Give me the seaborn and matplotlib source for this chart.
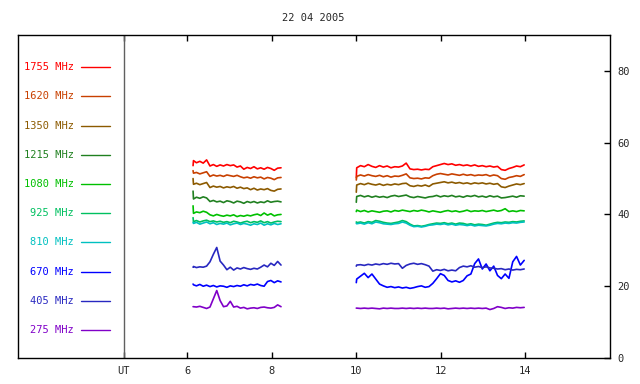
import numpy as np
import pandas as pd
import matplotlib
matplotlib.use("Agg")
import matplotlib.pyplot as plt
import seaborn as sns

# frequencies (legend order, top to bottom) and their colours
freqs = ["1755", "1620", "1350", "1215", "1080", "925", "810", "670", "405", "275"]
colors = ["#ff0000", "#c84000", "#8c5a00", "#208020", "#00c000",
          "#00c060", "#00c0c0", "#0000ff", "#2828c0", "#8000c8"]

# UT hours of the two observing runs
t1 = [6.14, 6.15, 6.22, 6.30, 6.38, 6.46, 6.54, 6.62, 6.70, 6.78, 6.86, 6.94, 7.02, 7.10,
      7.18, 7.26, 7.34, 7.42, 7.50, 7.58, 7.66, 7.74, 7.82, 7.90, 7.98, 8.06, 8.14, 8.22]
t2 = [10.00, 10.01, 10.10, 10.19, 10.28, 10.37, 10.46, 10.55, 10.64, 10.73, 10.82, 10.91,
      11.00, 11.09, 11.18, 11.27, 11.36, 11.45, 11.54, 11.63, 11.72, 11.81, 11.90, 11.99,
      12.08, 12.17, 12.26, 12.35, 12.44, 12.53, 12.62, 12.71, 12.80, 12.89, 12.98, 13.07,
      13.16, 13.25, 13.34, 13.43, 13.52, 13.61, 13.70, 13.79, 13.88, 13.97]

# run 1 values
r1_1755 = [53.6, 55.0, 54.4, 54.8, 54.3, 55.2, 53.5, 53.9, 53.4, 53.8, 53.5, 53.9, 53.6, 53.8,
           53.2, 53.5, 52.6, 53.1, 52.8, 53.3, 52.7, 53.0, 52.6, 53.1, 52.8, 52.3, 52.9, 53.0]
r1_1620 = [52.2, 51.5, 51.7, 51.3, 51.6, 51.9, 50.6, 51.0, 50.7, 50.9, 50.6, 51.0, 50.8, 50.6,
           50.9, 50.5, 50.2, 50.4, 50.1, 50.5, 50.2, 50.4, 49.9, 50.3, 50.1, 49.7, 50.2, 50.3]
r1_1350 = [50.0, 48.4, 48.7, 48.3, 48.6, 48.9, 47.5, 47.9, 47.6, 47.8, 47.4, 47.7, 47.5, 47.8,
           47.3, 47.6, 47.2, 47.4, 46.9, 47.3, 46.8, 47.1, 46.9, 47.2, 46.7, 46.5, 47.0, 47.1]
r1_1215 = [46.5, 44.3, 44.8, 44.5, 44.9, 44.6, 43.6, 43.9, 43.5, 43.7, 43.3, 43.8, 43.6, 43.2,
           43.7, 43.5, 43.1, 43.6, 43.3, 43.6, 43.2, 43.5, 43.3, 43.8, 43.4, 43.6, 43.7, 43.5]
r1_1080 = [42.4, 40.3, 40.7, 40.5, 40.9, 40.6, 39.9, 39.6, 40.0, 39.7, 39.5, 39.8, 39.6, 39.9,
           39.4, 39.7, 39.5, 39.8, 39.6, 39.9, 40.1, 39.7, 40.4, 39.8, 40.2, 39.6, 39.9, 40.0]
r1_925 = [39.1, 38.0, 38.3, 37.9, 38.2, 38.4, 38.0, 38.2, 37.9, 38.1, 37.8, 38.0, 37.7, 38.1,
          37.9, 37.6, 37.9, 38.1, 37.7, 38.0, 37.8, 38.2, 37.7, 38.0, 37.6, 37.9, 38.1, 38.0]
r1_810 = [37.8, 37.5, 37.8, 37.3, 37.6, 37.9, 37.4, 37.7, 37.2, 37.5, 37.3, 37.6, 37.1, 37.4,
          37.6, 37.2, 37.5, 37.3, 37.0, 37.4, 37.2, 37.6, 37.0, 37.4, 37.1, 37.5, 37.2, 37.4]
r1_670 = [20.6, 20.4, 20.1, 20.5, 20.0, 20.3, 19.9, 20.2, 19.8, 20.1, 20.0, 19.7, 20.1, 19.9,
          20.2, 20.0, 20.4, 20.1, 20.5, 20.3, 20.6, 20.2, 20.0, 21.3, 21.6, 21.0, 21.5, 21.2]
r1_405 = [25.3, 25.5, 25.2, 25.4, 25.3, 25.6, 26.8, 28.9, 30.8, 27.0, 25.9, 24.6, 25.3, 24.5,
          25.1, 24.8, 25.2, 24.9, 24.7, 25.0, 24.8, 25.3, 25.9, 25.4, 26.4, 25.8, 26.9, 25.9]
r1_275 = [14.3, 14.3, 14.2, 14.4, 14.1, 13.8, 14.2, 16.5, 18.8, 16.0, 14.3, 14.5, 15.8, 14.2,
          14.4, 13.9, 14.1, 13.7, 13.9, 14.0, 13.8, 14.1, 14.2, 14.0, 13.9, 14.1, 14.8, 14.3]

# run 2 values
r2_1755 = [50.2, 53.0, 53.6, 53.3, 53.9, 53.4, 53.1, 53.6, 53.2, 53.5, 53.0, 53.3, 53.2, 53.5,
           54.3, 52.7, 52.5, 52.6, 52.4, 52.6, 52.5, 53.3, 53.6, 53.9, 54.2, 53.9, 54.1, 53.7,
           53.9, 53.6, 53.8, 53.5, 53.8, 53.4, 53.6, 53.3, 53.5, 53.2, 53.4, 52.5, 52.3, 52.8,
           53.1, 53.5, 53.3, 53.8]
r2_1620 = [49.6, 50.6, 51.0, 50.7, 51.1, 50.8, 50.6, 50.9, 50.5, 50.8, 50.4, 50.7, 50.6, 50.9,
           51.3, 50.2, 50.0, 50.1, 49.9, 50.2, 50.1, 50.8, 51.2, 51.4, 51.2, 51.0, 51.3, 51.1,
           50.9, 51.2, 50.9, 51.1, 50.8, 51.0, 50.9, 51.1, 50.7, 51.0, 50.8, 50.0, 49.8, 50.3,
           50.5, 50.8, 50.6, 51.1]
r2_1350 = [46.2, 48.2, 48.6, 48.3, 48.7, 48.4, 48.2, 48.5, 48.1, 48.4, 48.2, 48.5, 48.3, 48.6,
           48.7, 48.0, 47.8, 48.1, 47.9, 48.2, 47.8, 48.5, 48.7, 48.9, 49.1, 48.8, 49.0, 48.7,
           48.9, 48.6, 48.8, 48.5, 48.8, 48.6, 48.8, 48.5, 48.7, 48.4, 48.6, 47.7, 47.5, 47.9,
           48.2, 48.5, 48.3, 48.6]
r2_1215 = [43.4, 45.0, 45.3, 44.9, 45.2, 44.8, 45.1, 44.8, 45.0, 44.7, 45.1, 45.3, 45.0, 45.2,
           45.4, 44.9, 44.7, 45.0, 44.8, 44.6, 44.9, 45.0, 45.3, 44.9, 45.2, 45.0, 45.3, 44.9,
           45.1, 44.8, 45.2, 45.0, 45.3, 44.9, 45.1, 44.8, 45.2, 44.9, 45.1, 44.6, 44.7, 44.9,
           45.1, 44.8, 45.2, 45.1]
r2_1080 = [40.8, 41.2, 40.8, 41.1, 40.7, 41.0, 40.8, 40.6, 40.9, 41.0, 40.7, 41.1, 40.9, 41.2,
           41.0, 40.8, 41.1, 40.9, 41.2, 41.0, 40.7, 41.0, 40.8, 40.6, 40.9, 41.1, 40.8, 41.0,
           40.7, 40.9, 41.2, 40.8, 41.0, 40.9, 41.1, 40.8, 41.0, 41.2, 40.9, 41.1, 41.6, 40.8,
           41.0, 40.8, 41.1, 41.0]
r2_925 = [37.9, 37.7, 37.9, 37.6, 38.0, 37.8, 38.3, 38.1, 37.8, 37.6, 37.5, 37.7, 37.9, 38.3,
          38.0, 37.3, 36.8, 36.9, 36.7, 36.9, 37.2, 37.4, 37.6, 37.5, 37.7, 37.4, 37.6, 37.3,
          37.6, 37.5, 37.2, 37.4, 37.1, 37.3, 37.2, 37.0, 37.3, 37.6, 37.8, 37.7, 37.9, 37.8,
          38.0, 37.9, 38.1, 38.2]
r2_810 = [37.5, 37.4, 37.6, 37.3, 37.7, 37.4, 37.9, 37.7, 37.4, 37.3, 37.2, 37.4, 37.5, 37.9,
          37.6, 37.0, 36.6, 36.7, 36.5, 36.7, 37.0, 37.1, 37.3, 37.2, 37.4, 37.1, 37.3, 37.0,
          37.2, 37.1, 36.9, 37.1, 36.8, 37.0, 36.9, 36.8, 37.0, 37.3, 37.5, 37.4, 37.6, 37.5,
          37.7, 37.6, 37.8, 37.9]
r2_670 = [21.0, 22.0, 22.8, 23.6, 22.4, 23.4, 22.0, 20.6, 20.1, 19.7, 19.9, 19.6, 19.8, 19.5,
          19.7, 19.4, 19.6, 19.9, 20.1, 19.7, 19.9, 20.8, 22.1, 23.5, 23.0, 21.6, 21.2, 21.5,
          21.1, 21.6, 22.9, 23.4, 26.3, 27.6, 24.8, 26.2, 24.3, 25.6, 23.0, 22.1, 23.4, 22.2,
          26.8, 28.3, 25.9, 27.2]
r2_405 = [25.6, 25.9, 26.0, 25.8, 26.1, 25.9, 26.2, 26.0, 26.3, 26.1, 26.4, 26.2, 26.3, 25.0,
          25.8, 26.2, 26.4, 26.1, 26.3, 26.0, 25.6, 24.2, 24.6, 24.4, 24.7, 24.3, 24.5, 24.3,
          25.2, 25.6, 25.4, 25.7, 25.3, 25.5, 25.2, 25.4, 25.1, 25.0, 24.8, 24.9, 24.6, 24.8,
          24.5, 24.7, 24.6, 24.8]
r2_275 = [13.9, 13.9, 13.8, 13.9, 13.8, 13.9, 13.8, 13.7, 13.9, 13.8, 13.9, 13.8, 13.8, 13.9,
          13.8, 13.9, 13.8, 13.9, 13.8, 13.9, 13.8, 13.8, 13.9, 13.8, 13.9, 13.7, 13.8, 13.9,
          13.8, 13.9, 13.8, 13.9, 13.8, 13.9, 13.8, 13.9, 13.5, 13.8, 14.3, 14.1, 13.8, 14.0,
          13.9, 14.1, 14.0, 14.1]

run1 = [r1_1755, r1_1620, r1_1350, r1_1215, r1_1080, r1_925, r1_810, r1_670, r1_405, r1_275]
run2 = [r2_1755, r2_1620, r2_1350, r2_1215, r2_1080, r2_925, r2_810, r2_670, r2_405, r2_275]

rows = []
for f, v1, v2 in zip(freqs, run1, run2):
    rows += [(f, 1, t, v) for t, v in zip(t1, v1)]
    rows += [(f, 2, t, v) for t, v in zip(t2, v2)]
df = pd.DataFrame(rows, columns=["freq", "seg", "UT", "value"])

sns.set_style("white")
plt.rcParams["font.family"] = ["DejaVu Sans Mono"]

fig = plt.figure(figsize=(6.4, 3.84), dpi=100)
ax = fig.add_axes([18 / 640, 1 - 358 / 384, 592 / 640, 323 / 384])

sns.lineplot(data=df, x="UT", y="value", hue="freq", units="seg", estimator=None,
             palette=dict(zip(freqs, colors)), legend=False, lw=1.2, sort=False, ax=ax)

# legend panel drawn inside the frame
for i, (f, c) in enumerate(zip(freqs, colors)):
    yy = 81.0 - 8.13 * i
    ax.text(3.33, yy, f + " MHz", color=c, ha="right", va="center", fontsize=7.5)
    ax.plot([3.5, 4.18], [yy, yy], color=c, lw=1.0)
ax.axvline(4.5, color="#606060", lw=1.0)

ax.set_xlim(2, 16)
ax.set_ylim(0, 90)
ax.set_xticks([4.5, 6, 8, 10, 12, 14])
ax.set_xticklabels(["UT", "6", "8", "10", "12", "14"])
ax.set_yticks([0, 20, 40, 60, 80])
ax.yaxis.tick_right()
ax.tick_params(axis="x", direction="in", top=True, bottom=True, length=4, width=1,
               labelsize=7.5, pad=6, color="black")
ax.tick_params(axis="y", direction="in", right=True, left=False, length=4, width=1,
               labelsize=7.5, pad=5, color="black")
ax.set_xlabel("")
ax.set_ylabel("")
for s in ax.spines.values():
    s.set_color("black")
    s.set_linewidth(1.0)

fig.text(0.49, 1 - 18 / 384, "22 04 2005", ha="center", va="center", fontsize=7.5)

fig.savefig("out.png", dpi=100)
